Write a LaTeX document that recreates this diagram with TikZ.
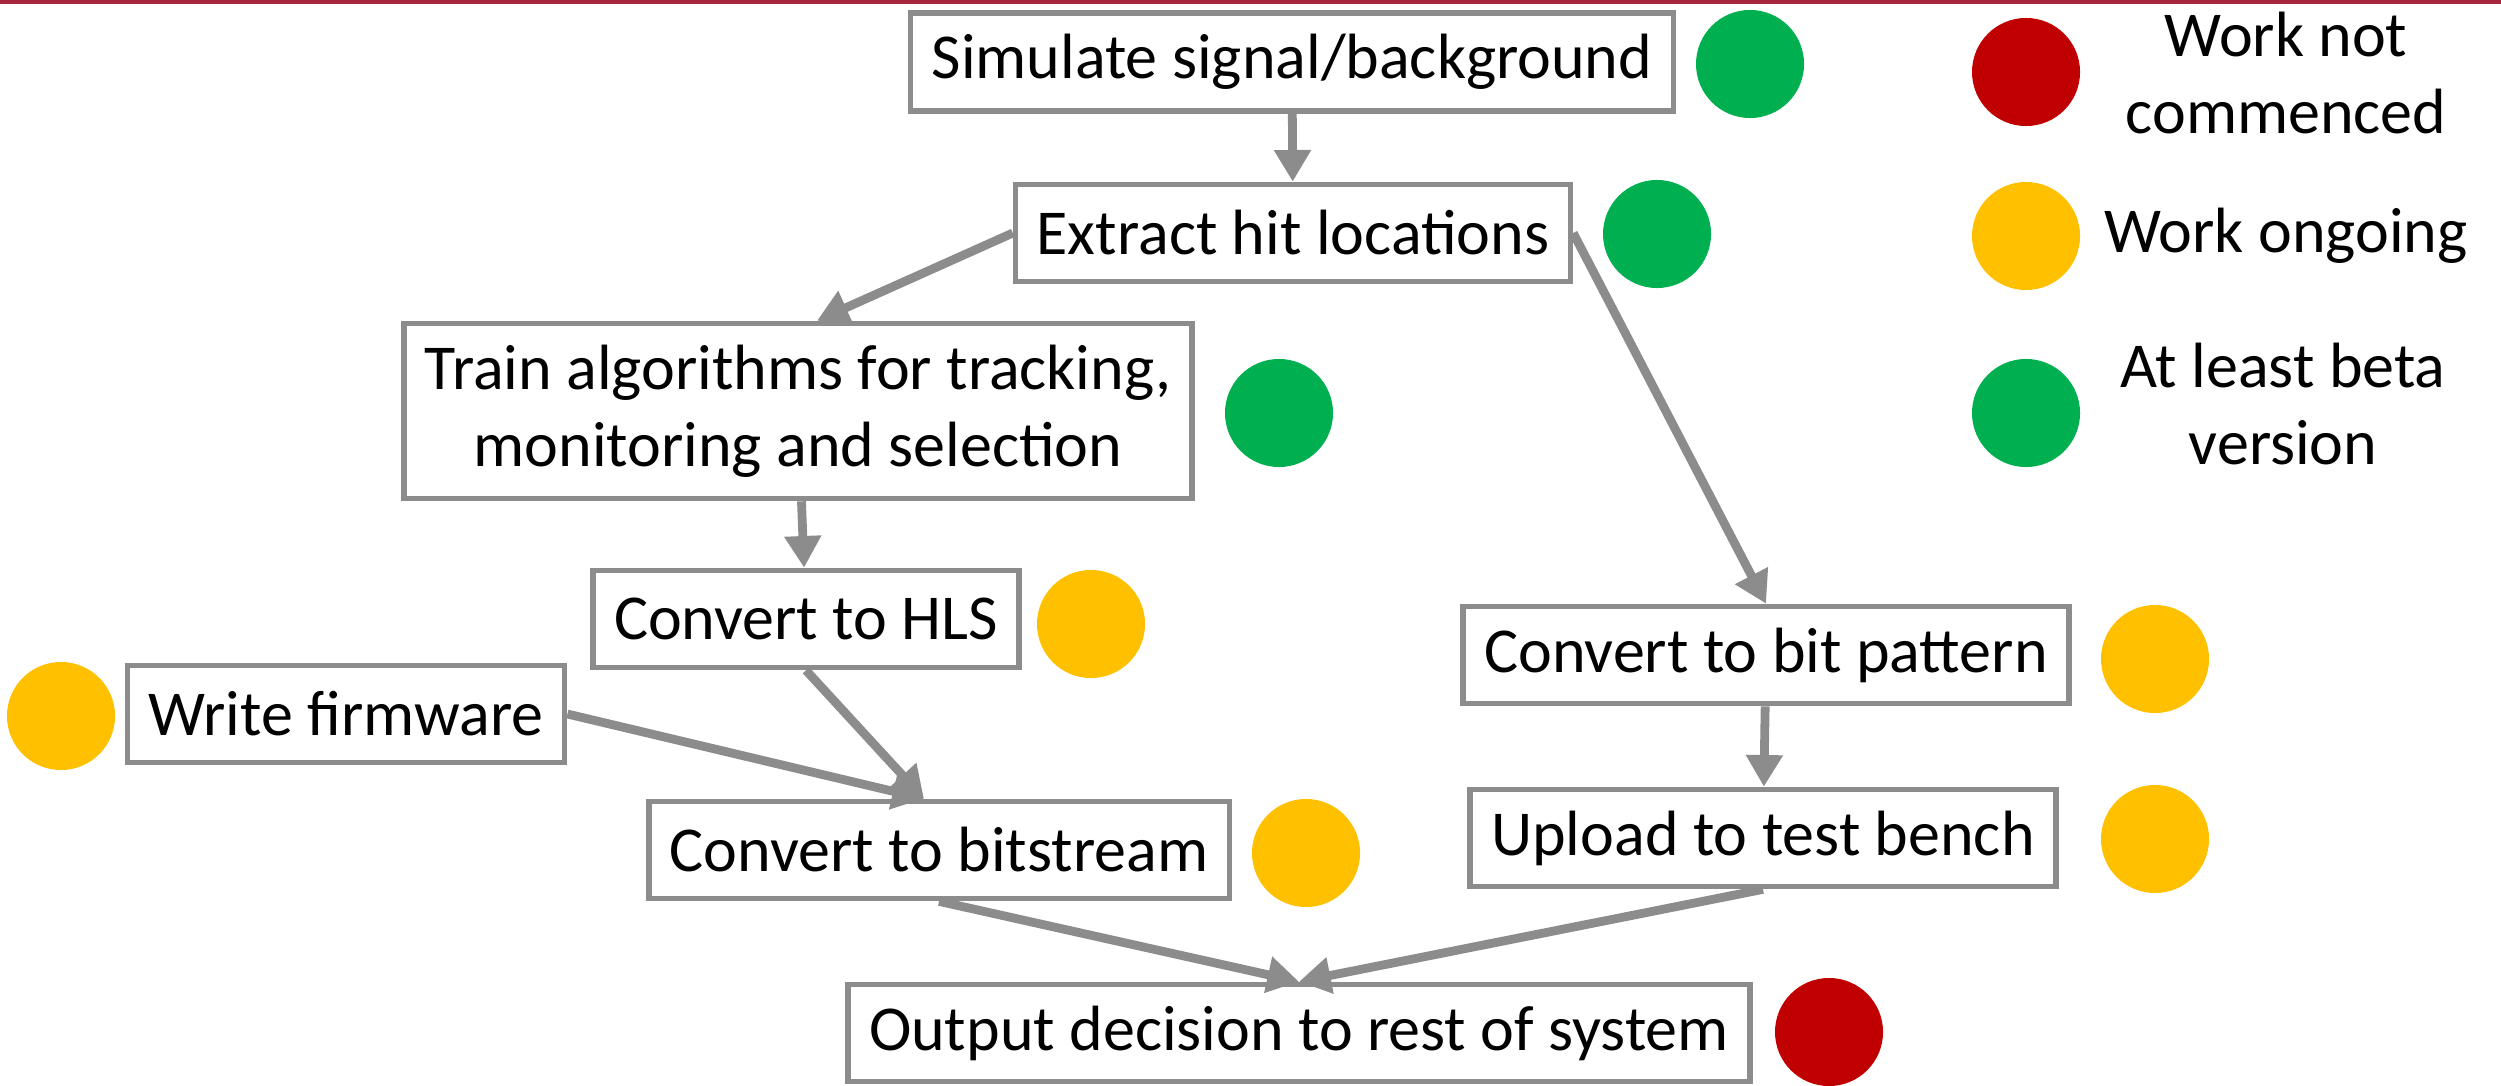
\documentclass[tikz,border=0pt]{standalone}
\usepackage{fontspec}
\setmainfont{Carlito}
\usetikzlibrary{arrows.meta}
\definecolor{edgegray}{HTML}{8C8C8C}
\definecolor{topred}{HTML}{A6263C}
\definecolor{stred}{HTML}{C00000}
\definecolor{styellow}{HTML}{FFC000}
\definecolor{stgreen}{HTML}{00B050}

\begin{document}
\begin{tikzpicture}[x=0.01cm, y=-0.01cm,
    box/.style={draw=edgegray, line width=1.6pt, fill=white, inner xsep=6pt, inner ysep=6pt,
      minimum height=0.97cm, align=center, font=\fontsize{18.2}{22}\selectfont},
    dot/.style={circle, minimum size=1.08cm, inner sep=0pt},
    flow/.style={draw=edgegray, line width=2.5pt, -{Triangle[length=9pt,width=10pt]}},
    key/.style={align=center, font=\fontsize{18.2}{22}\selectfont}]
  \useasboundingbox (0,0) rectangle (2501,1085);
  \draw[topred, line width=1.2pt] (0,2) -- (2501,2);

  \node[box] (sim) at (1292,62) {Simulate signal/background};
  \node[box] (hit) at (1293,233) {Extract hit locations};
  \node[box] (train) at (798,411) {Train algorithms for tracking,\\monitoring and selection};
  \node[box] (hls) at (806,619) {Convert to HLS};
  \node[box] (fw) at (346,714) {Write firmware};
  \node[box] (bs) at (939,850) {Convert to bitstream};
  \node[box] (bp) at (1766,655) {Convert to bit pattern};
  \node[box] (tb) at (1763,838) {Upload to test bench};
  \node[box] (out) at (1299,1033) {Output decision to rest of system};

  \node[dot, fill=stgreen] (simdot) at (1750,64) {};
  \node[dot, fill=stgreen] (hitdot) at (1657,234) {};
  \node[dot, fill=stgreen] (traindot) at (1279,413) {};
  \node[dot, fill=styellow] (hlsdot) at (1091,624) {};
  \node[dot, fill=styellow] (fwdot) at (61,716) {};
  \node[dot, fill=styellow] (bsdot) at (1306,853) {};
  \node[dot, fill=styellow] (bpdot) at (2155,659) {};
  \node[dot, fill=styellow] (tbdot) at (2155,839) {};
  \node[dot, fill=stred] (outdot) at (1829,1032) {};

  \node[dot, fill=stred] (keyred) at (2026,72) {};
  \node[dot, fill=styellow] (keyyellow) at (2026,236) {};
  \node[dot, fill=stgreen] (keygreen) at (2026,413) {};
  \node[key] at (2286,73) {Work not\\commenced};
  \node[key] at (2286,236) {Work ongoing};
  \node[key] at (2283,404) {At least beta\\version};

  \draw[flow] (sim) -- (hit);
  \draw[flow] (hit.west) -- ([xshift=0.19cm]train.north);
  \draw[flow] (hit.east) -- (bp.north);
  \draw[flow] (train) -- (hls);
  \draw[flow] (hls.south) -- ([xshift=-0.15cm]bs.north);
  \draw[flow] (fw.east) -- ([xshift=-0.15cm]bs.north);
  \draw[flow] (bp) -- (tb);
  \draw[flow] (bs.south) -- (out.north);
  \draw[flow] (tb.south) -- (out.north);
\end{tikzpicture}
\end{document}
